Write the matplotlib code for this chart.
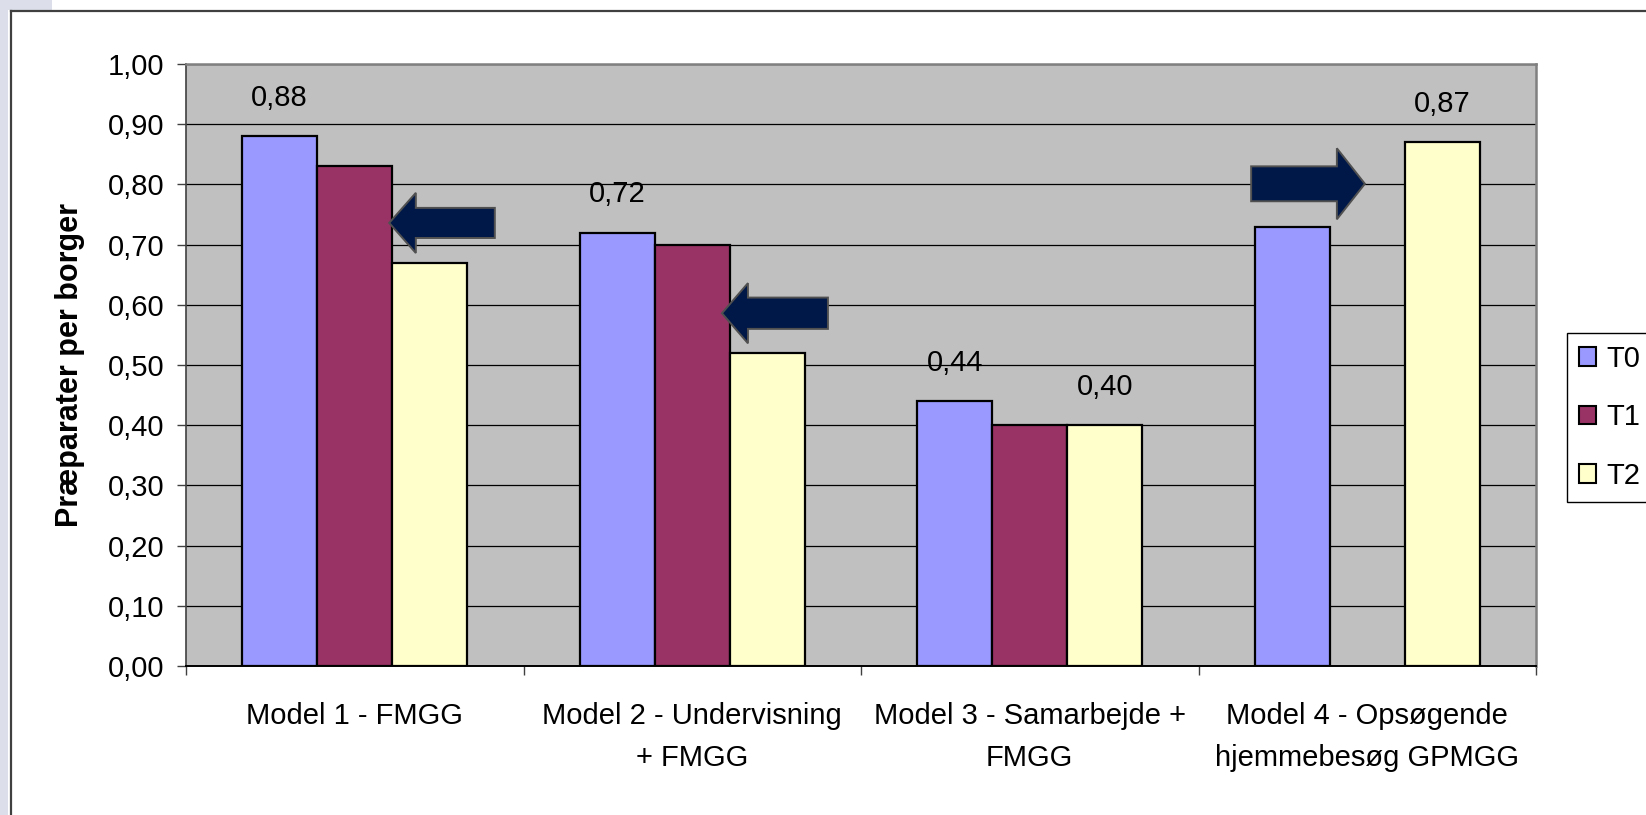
import numpy as np
import matplotlib
matplotlib.use("Agg")
import matplotlib.pyplot as plt
from matplotlib.patches import Polygon, Patch, Rectangle
from matplotlib.lines import Line2D

# ---- data -------------------------------------------------------------
categories = ["Model 1 - FMGG",
              "Model 2 - Undervisning\n+ FMGG",
              "Model 3 - Samarbejde +\nFMGG",
              "Model 4 - Opsøgende\nhjemmebesøg GPMGG"]
series_names = ["T0", "T1", "T2"]
t0_values = [0.88, 0.72, 0.44, 0.73]
t1_values = [0.83, 0.70, 0.40, np.nan]
t2_values = [0.67, 0.52, 0.40, 0.87]
labelled_series = ["T0", "T2"]
y_ticks = [0.0, 0.1, 0.2, 0.3, 0.4, 0.5, 0.6, 0.7, 0.8, 0.9, 1.0]
y_title = "Præparater per borger"

colors = {"T0": "#9999FF", "T1": "#993366", "T2": "#FFFFCC"}
values = {"T0": t0_values, "T1": t1_values, "T2": t2_values}

plt.rcParams["font.family"] = ["Liberation Sans", "DejaVu Sans"]

W, H = 1646, 815
fig = plt.figure(figsize=(W / 100, H / 100), dpi=100)
fig.patch.set_facecolor("white")

# window strip and chart frame
fig.patches.append(Rectangle((0, 0), 8 / W, 1, transform=fig.transFigure,
                             facecolor="#dcdfe9", edgecolor="none", zorder=0))
fig.patches.append(Rectangle((0, 1 - 10 / H), 52 / W, 10 / H, transform=fig.transFigure,
                             facecolor="#dcdfe9", edgecolor="none", zorder=0))
fig.lines.append(Line2D([10.5 / W, 10.5 / W], [0, 1 - 10.5 / H], transform=fig.transFigure,
                        color="#404040", lw=1.6))
fig.lines.append(Line2D([10.5 / W, 1], [1 - 10.5 / H, 1 - 10.5 / H], transform=fig.transFigure,
                        color="#404040", lw=1.6))

ax = fig.add_axes([186 / W, 1 - 666 / H, (1536 - 186) / W, (666 - 64) / H])
ax.set_facecolor("#c0c0c0")

x = np.arange(len(categories))
w = 1 / 4.5
offsets = {"T0": -w, "T1": 0.0, "T2": w}

for name in series_names:
    ax.bar(x + offsets[name], values[name], width=w, color=colors[name],
           edgecolor="black", linewidth=1.6, zorder=2)

# value labels
for name in labelled_series:
    for xi, v in zip(x, values[name]):
        if np.isnan(v):
            continue
        ax.annotate(f"{v:.2f}".replace(".", ","), (xi + offsets[name], v),
                    xytext=(0, 27.5), textcoords="offset points",
                    ha="center", va="center", fontsize=21, color="black", zorder=3)


def block_arrow(x_tail, x_tip, yc, body_half, head_half, head_len):
    d = 1 if x_tip > x_tail else -1
    xb = x_tip - d * head_len
    pts = [(x_tail, yc - body_half), (xb, yc - body_half), (xb, yc - head_half),
           (x_tip, yc), (xb, yc + head_half), (xb, yc + body_half),
           (x_tail, yc + body_half)]
    ax.add_patch(Polygon(pts, closed=True, facecolor="#001848", edgecolor="#505050",
                         linewidth=1.4, zorder=6, joinstyle="miter"))


block_arrow(0.415, 0.102, 0.736, 0.025, 0.050, 0.079)
block_arrow(1.402, 1.088, 0.586, 0.026, 0.050, 0.077)
block_arrow(2.656, 2.993, 0.801, 0.029, 0.059, 0.083)

# axes
ax.set_xlim(-0.5, 3.5)
ax.set_ylim(0, 1)
ax.set_yticks(y_ticks)
ax.set_yticklabels([f"{t:.2f}".replace(".", ",") for t in y_ticks])
ax.yaxis.grid(True, color="black", linewidth=0.9)
ax.set_axisbelow(True)
ax.tick_params(axis="y", direction="out", length=6.5, width=1, color="#404040",
               labelsize=21, pad=9)

ax.set_xticks(np.arange(-0.5, 4.0, 1.0))
ax.set_xticklabels([])
ax.tick_params(axis="x", which="major", direction="out", length=6.5, width=1,
               color="#404040")
ax.set_xticks(x, minor=True)
ax.set_xticklabels(categories, minor=True, fontsize=21, linespacing=1.65)
ax.tick_params(axis="x", which="minor", length=0, pad=26)

for side in ("top", "right"):
    ax.spines[side].set_color("#808080")
    ax.spines[side].set_linewidth(1.8)
ax.spines["left"].set_color("#404040")
ax.spines["left"].set_linewidth(1.2)
ax.spines["bottom"].set_color("black")
ax.spines["bottom"].set_linewidth(1.4)

fig.text(70 / W, 1 - 365 / H, y_title, rotation=90, ha="center", va="center",
         fontsize=22, fontweight="bold")

handles = [Patch(facecolor=colors[n], edgecolor="black", linewidth=1.5) for n in series_names]
leg = fig.legend(handles, series_names, loc="upper left",
                 bbox_to_anchor=(1567 / W, 1 - 333 / H), fontsize=21, frameon=True,
                 fancybox=False, edgecolor="black", framealpha=1,
                 handlelength=0.6, handleheight=0.6, handletextpad=0.35,
                 labelspacing=1.05, borderpad=0.4, borderaxespad=0)
leg.get_frame().set_linewidth(1.0)

fig.savefig("out.png", dpi=100)
